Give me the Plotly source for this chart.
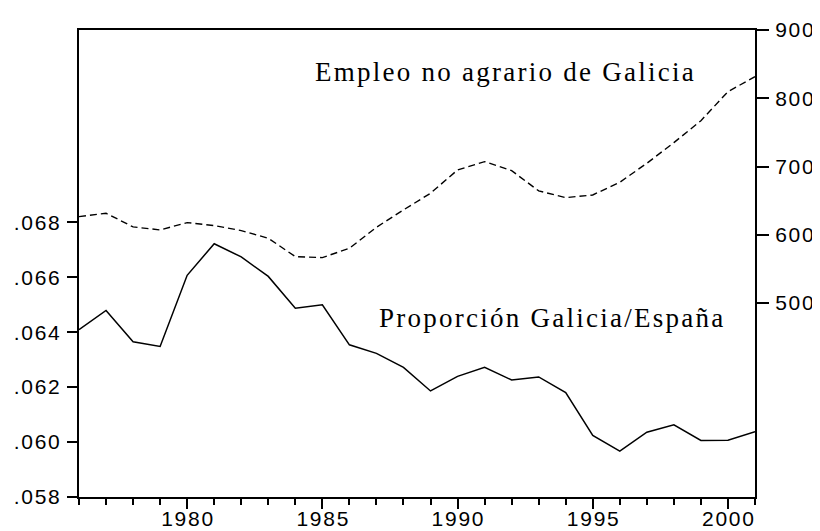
import plotly.graph_objects as go

# years on the horizontal axis
years = list(range(1976, 2002))

# share of Galicia in Spain's non-farm employment (left axis)
proporcion = [0.06409, 0.06479, 0.06365, 0.06348, 0.06607, 0.06722, 0.06674,
              0.06603, 0.06487, 0.06500, 0.06354, 0.06323, 0.06272, 0.06186,
              0.06239, 0.06272, 0.06226, 0.06237, 0.06180, 0.06024, 0.05967,
              0.06036, 0.06063, 0.06006, 0.06007, 0.06038]

# non-farm employment in Galicia, thousands (right axis)
empleo = [626.7, 631.6, 611.6, 607.2, 617.9, 613.5, 606.2, 595.0, 568.1,
          566.6, 580.3, 611.1, 636.5, 660.9, 695.0, 707.2, 694.0, 664.3,
          654.5, 658.4, 677.0, 704.8, 735.0, 767.2, 809.7, 831.6]

left_ticks = [0.058, 0.060, 0.062, 0.064, 0.066, 0.068]
left_labels = [".058", ".060", ".062", ".064", ".066", ".068"]
right_ticks = [500, 600, 700, 800, 900]
x_ticks = [1980, 1985, 1990, 1995, 2000]

HS = "\u200a"


def spaced(s):
    return HS.join(s)


fig = go.Figure()

fig.add_trace(go.Scatter(x=years, y=proporcion, mode="lines",
                         line=dict(color="black", width=1.5),
                         yaxis="y", showlegend=False))
fig.add_trace(go.Scatter(x=years, y=empleo, mode="lines",
                         line=dict(color="black", width=1.4, dash="7px,4px"),
                         yaxis="y2", showlegend=False))

tick_font = dict(family="Liberation Sans, Arial, sans-serif", size=21, color="black")
text_font = dict(family="Liberation Serif, Times New Roman, serif", size=27, color="black")

# the page body adds an 8px offset, so the figure is 8px smaller on each side
fig.update_layout(
    width=812, height=523,
    margin=dict(l=71, r=65, t=22, b=34, autoexpand=False),
    paper_bgcolor="white", plot_bgcolor="white",
    xaxis=dict(range=[1976, 2001], tickvals=x_ticks,
               ticktext=[spaced(str(v)) for v in x_ticks],
               ticks="outside", ticklen=10, tickwidth=1.5, tickcolor="black",
               ticklabelstandoff=-8,
               minor=dict(tickvals=years, ticks="outside", ticklen=6,
                          tickwidth=1.5, tickcolor="black"),
               showline=True, linecolor="black", linewidth=2, mirror=True,
               showgrid=False, zeroline=False, tickfont=tick_font),
    yaxis=dict(range=[0.058, 0.075], tickvals=left_ticks,
               ticktext=[spaced(t) for t in left_labels],
               ticks="outside", ticklen=10, tickwidth=1.5, tickcolor="black",
               ticklabelstandoff=3,
               showline=True, linecolor="black", linewidth=2,
               showgrid=False, zeroline=False, tickfont=tick_font),
    yaxis2=dict(range=[216, 900], tickvals=right_ticks,
                ticktext=[spaced(str(v)) for v in right_ticks],
                overlaying="y", side="right",
                ticks="outside", ticklen=12, tickwidth=1.5, tickcolor="black",
                ticklabelstandoff=2,
                showline=True, linecolor="black", linewidth=2,
                showgrid=False, zeroline=False, tickfont=tick_font),
    annotations=[
        dict(text=spaced("Empleo no agrario de Galicia"), x=1991.75, y=839,
             xref="x", yref="y2", showarrow=False, font=text_font),
        dict(text=spaced("Proporción Galicia/España"), x=1993.46, y=0.06452,
             xref="x", yref="y", showarrow=False, font=text_font),
    ],
)

fig.write_html("out.html")
